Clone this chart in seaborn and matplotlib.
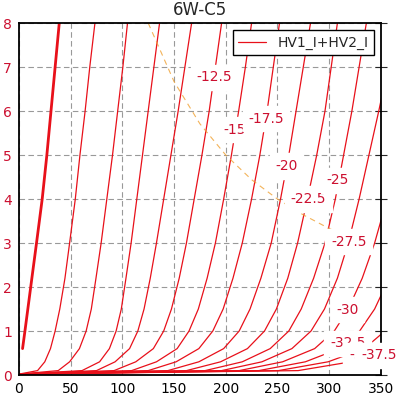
import numpy as np
import pandas as pd
import matplotlib
matplotlib.use("Agg")
import matplotlib.pyplot as plt
from matplotlib.lines import Line2D
import seaborn as sns

nan = np.nan

# plate current levels (mA) shared by every curve
ia_levels = [0.02, 0.1, 0.3, 0.6, 1.0, 1.5, 2.2, 3, 4, 5, 6, 7, 8]

# plate voltage (V) at each current level, one list per grid voltage
va_g0 = [nan, nan, nan, 3.5, 5.8, 8.6, 12.5, 17.0, 22.5, 27.0, 31.0, 35.0, 39.0]
va_g2_5 = [0, 18, 25, 30.5, 35, 39.5, 44.5, 49, 54.5, 59, 64, 68.5, 73.5]
va_g5 = [0, 38, 49, 58.5, 65, 70, 74.5, 79.5, 85, 90.5, 95.5, 100.5, 105]
va_g7_5 = [0, 61, 78, 87.5, 94, 99, 103.5, 108.5, 114, 119.5, 125, 130.5, 136]
va_g10 = [0, 75, 93, 107, 115, 121, 127, 133, 140, 147, 154, 160.5, 167]
va_g12_5 = [0, 92, 113, 130, 140, 147.5, 155, 162, 169.5, 177, 184, 190, 196]
va_g15 = [0, 109, 133, 153, 164.5, 173.5, 182, 190, 198, 205.5, 212.5, 219, 225]
va_g17_5 = [0, 125, 152, 174, 187.5, 197.5, 207, 216, 225, 233, 240, 246, 252]
va_g20 = [0, 144, 174, 198, 213, 223.5, 234, 244, 253, 261, 268, 275, 282]
va_g22_5 = [0, 162, 195, 221, 237.5, 249, 260, 269.5, 279, 288, 296, 302, 308]
va_g25 = [0, 180, 216, 243, 261, 273, 285, 296, 306, 314, 322, 329, 336]
va_g27_5 = [0, 196, 235, 264, 282.5, 295.5, 308, 318.5, 329, 338.5, 348, 357, nan]
va_g30 = [0, 213, 255, 286, 305, 318.5, 332, 344, 356, nan, nan, nan, nan]
va_g32_5 = [0, 232, 277, 310, 329.5, 344, 358, nan, nan, nan, nan, nan, nan]
va_g35 = [0, 251, 299, 334, 354, nan, nan, nan, nan, nan, nan, nan, nan]
va_g37_5 = [0, 270, 321, 358, nan, nan, nan, nan, nan, nan, nan, nan, nan]

grid_volts = [0, -2.5, -5, -7.5, -10, -12.5, -15, -17.5, -20, -22.5,
              -25, -27.5, -30, -32.5, -35, -37.5]
va_curves = [va_g0, va_g2_5, va_g5, va_g7_5, va_g10, va_g12_5, va_g15, va_g17_5,
             va_g20, va_g22_5, va_g25, va_g27_5, va_g30, va_g32_5, va_g35, va_g37_5]

# max plate dissipation line
pd_va = [125, 150, 175, 200, 225, 250, 275, 300, 330]
pd_ia = [8.0, 6.67, 5.71, 5.0, 4.44, 4.0, 3.64, 3.33, 3.03]

# curve labels
lbl_text = ['-12.5', '-15', '-17.5', '-20', '-22.5', '-25', '-27.5',
            '-30', '-32.5', '-35', '-37.5']
lbl_va = [189, 209, 239, 259, 280, 308.5, 319, 318, 318, 330, 348]
lbl_ia = [6.77, 5.57, 5.83, 4.75, 4.0, 4.43, 3.03, 1.48, 0.72, 0.45, 0.45]

rows = []
for g, vas in zip(grid_volts, va_curves):
    for v, i in zip(vas, ia_levels):
        rows.append({'vg': g, 'va': v, 'ia': i})
df = pd.DataFrame(rows).dropna()

sns.set_style("white")
plt.rcParams['font.family'] = ['DejaVu Sans']

line_red = '#e8101a'
text_red = '#cc1030'

fig = plt.figure(figsize=(4.03, 3.97), dpi=100)
ax = fig.add_axes([0.047, 0.0554, 0.898, 0.8866])

sns.lineplot(data=df[df.vg == 0], x='va', y='ia', sort=False, estimator=None,
             color=line_red, lw=2.0, ax=ax, legend=False)
sns.lineplot(data=df[df.vg < 0], x='va', y='ia', units='vg', sort=False,
             estimator=None, color=line_red, lw=0.9, ax=ax, legend=False)
ax.plot(pd_va, pd_ia, color='#f0a030', lw=0.8, alpha=0.8, dashes=(5, 4))

for t, x, y in zip(lbl_text, lbl_va, lbl_ia):
    ax.text(x, y, t, color=text_red, fontsize=10, ha='center', va='center',
            zorder=5, clip_on=False,
            bbox=dict(boxstyle='square,pad=0.4', fc='white', ec='white'))

ax.set_xlim(0, 350)
ax.set_ylim(0, 8)
ax.set_xticks(range(0, 351, 50))
ax.set_yticks(range(0, 9))
ax.set_xlabel('')
ax.set_ylabel('')
ax.grid(True, linestyle=(0, (5, 3)), color='#999999', lw=0.8)
ax.set_axisbelow(True)

ax.tick_params(axis='x', direction='in', length=4, labelsize=10, pad=5,
               colors='black')
ax.tick_params(axis='y', direction='in', length=4, labelsize=10, pad=5,
               right=True, labelcolor=text_red)
for tk in ax.yaxis.get_major_ticks():
    tk.tick2line.set_marker('_')
    tk.tick2line.set_markersize(8)

for sp in ax.spines.values():
    sp.set_color('black')
    sp.set_linewidth(1.3)

ax.set_title('6W-C5', fontsize=12, pad=6)

handle = Line2D([], [], color=line_red, lw=0.9)
leg = ax.legend(handles=[handle], labels=['HV1_I+HV2_I'], loc='upper right',
                fontsize=10, fancybox=False, framealpha=1, edgecolor='black')
leg.get_frame().set_linewidth(1.0)

fig.savefig('out.png', dpi=100)
